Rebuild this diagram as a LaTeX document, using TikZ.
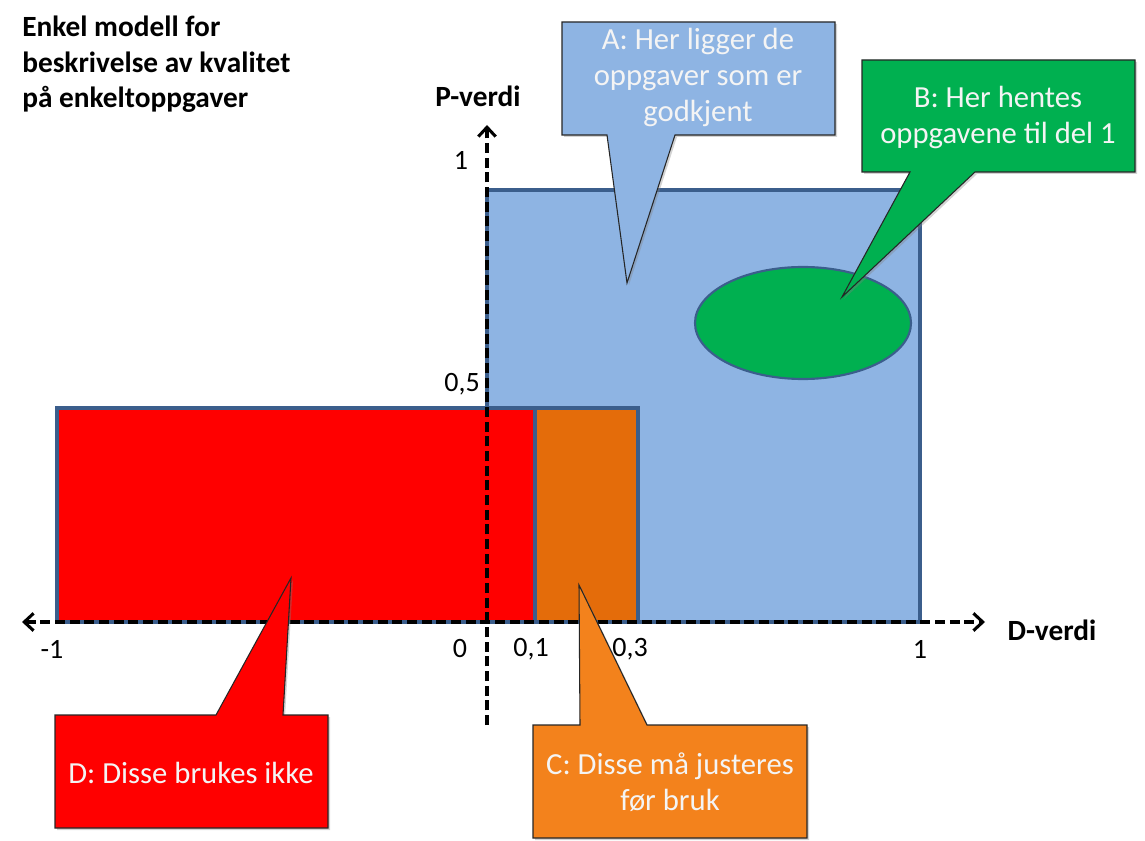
\documentclass[tikz,border=0pt]{standalone}
\usepackage{fontspec}
\setmainfont{Carlito}
\usetikzlibrary{arrows.meta, positioning, shadows}
\definecolor{areablue}{HTML}{8EB4E3}
\definecolor{edgeblue}{HTML}{3B5E8C}
\definecolor{areared}{HTML}{FF0000}
\definecolor{areaorange}{HTML}{E46C0A}
\definecolor{areagreen}{HTML}{00B050}
\definecolor{bubbleorange}{HTML}{F3821C}
\definecolor{bubbletext}{HTML}{F4F4F4}
\tikzstyle{area} = [draw=edgeblue, line width=2.3pt]
\tikzstyle{dashaxis} = [draw=black, line width=2.3pt, dash pattern=on 7.5pt off 3.5pt]
\tikzstyle{bubble} = [draw=black!85, line width=0.8pt, line join=miter, drop shadow={opacity=0.35, shadow xshift=1.5pt, shadow yshift=-1.5pt}]
\tikzstyle{bubbletxt} = [text=bubbletext, align=center, inner sep=0pt, font=\fontsize{23}{27}\selectfont]
\tikzstyle{tick} = [inner sep=0pt, font=\fontsize{21}{26}\selectfont]
\tikzstyle{axislabel} = [inner sep=0pt, font=\fontsize{22}{26.5}\selectfont\bfseries]

\begin{document}
\begin{tikzpicture}[x=0.75pt, y=-0.75pt]
	\useasboundingbox (0,0) rectangle (1145,841);

	% Areas
	\draw [area, fill=areablue] (487,190) rectangle (920,622);
	\draw [draw=edgeblue, line width=1.6pt, fill=areagreen] (803,323) ellipse [x radius=108, y radius=56];
	\draw [area, fill=areared] (57,408) rectangle (535,622);
	\draw [area, fill=areaorange] (535,408) rectangle (638,622);

	% Axes
	\coordinate (xleft) at (22,622);
	\coordinate (xright) at (985,622);
	\coordinate (ybottom) at (487,725);
	\coordinate (ytop) at (487,125);
	\draw [dashaxis, {Straight Barb[length=7pt, width=13pt]}-{Straight Barb[length=7pt, width=13pt]}] (xleft) -- (xright);
	\draw [dashaxis, -{Straight Barb[length=7pt, width=13pt]}] (ybottom) -- (ytop);

	% Axis labels
	\node (pverdi) [axislabel] at (478,96) {P-verdi};
	\node (dverdi) [axislabel] at (1052,630) {D-verdi};
	\node (pone) [tick] at (461,160) {1};
	\node (phalf) [tick] at (462,384) {0,5};
	\node (dmin) [tick] at (52,649) {-1};
	\node (dzero) [tick] at (460,649) {0};
	\node (dtenth) [tick] at (531,649) {0,1};
	\node (dthird) [tick] at (630,649) {0,3};
	\node (dmax) [tick] at (920,649) {1};

	% Title
	\node (title) [axislabel, anchor=north west, align=left] at (22,16) {Enkel modell for\\beskrivelse av kvalitet\\på enkeltoppgaver};

	% Callouts
	\draw [bubble, fill=areablue] (562,22) -- (835,22) -- (835,135) -- (675,135) -- (627,283) -- (607,135) -- (562,135) -- cycle;
	\node (bubbleA) [bubbletxt] at (698,77) {A: Her ligger de\\oppgaver som er\\godkjent};

	\draw [bubble, fill=areagreen] (862,60) -- (1135,60) -- (1135,172) -- (975,172) -- (842,297) -- (910,172) -- (862,172) -- cycle;
	\node (bubbleB) [bubbletxt] at (998,117) {B: Her hentes\\oppgavene til del 1};

	\draw [bubble, fill=bubbleorange] (533,725) -- (580,725) -- (579,585) -- (647,725) -- (807,725) -- (807,838) -- (533,838) -- cycle;
	\node (bubbleC) [bubbletxt] at (670,782) {C: Disse må justeres\\før bruk};

	\draw [bubble, fill=areared] (55,715) -- (216,715) -- (291,578) -- (283,715) -- (328,715) -- (328,828) -- (55,828) -- cycle;
	\node (bubbleD) [bubbletxt] at (191,773) {D: Disse brukes ikke};

\end{tikzpicture}
\end{document}
